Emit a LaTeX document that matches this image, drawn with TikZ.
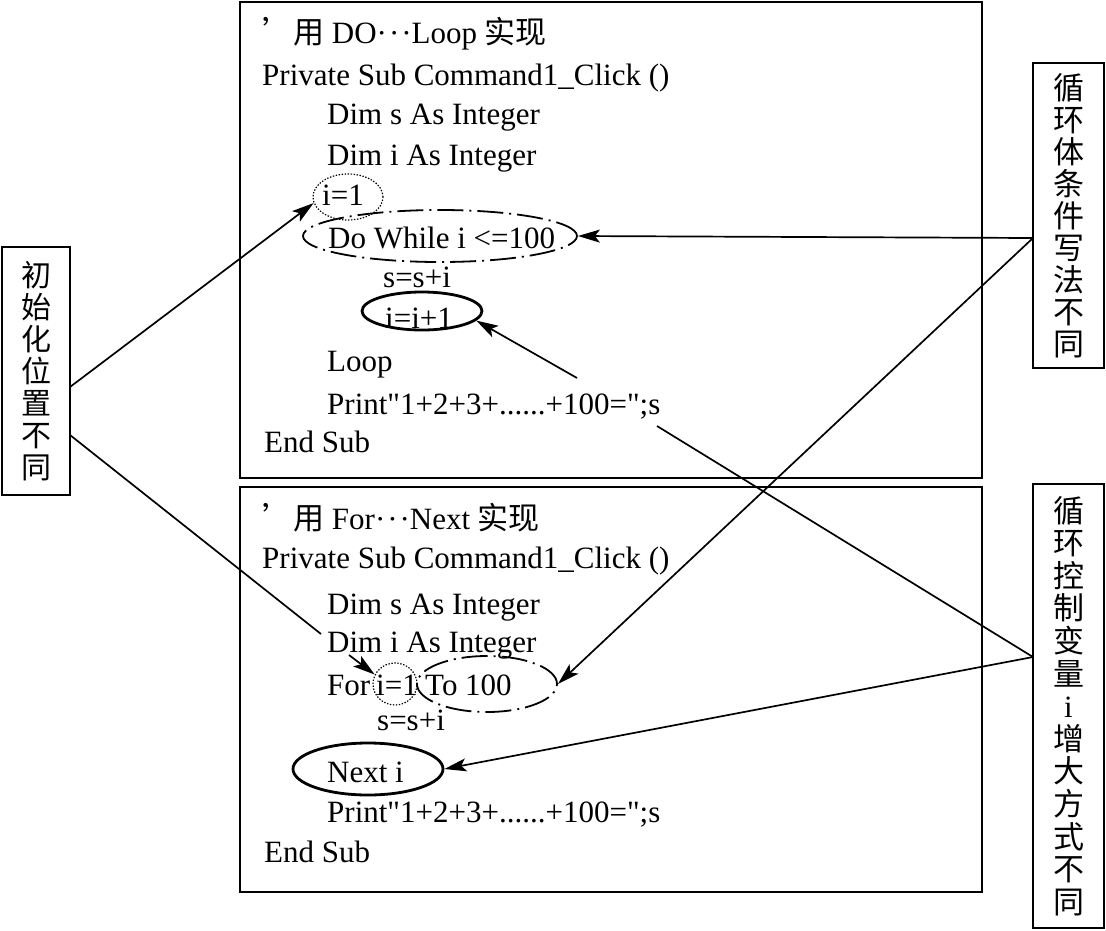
\documentclass[tikz,border=0pt]{standalone}
\usepackage{fontspec}
\setmainfont{Liberation Serif}[Ligatures=TeXOff]
\newfontfamily\cjk{Noto Sans CJK SC}
\usetikzlibrary{arrows.meta,shapes.geometric}
\newcommand{\mdots}{·\kern2pt·\kern2pt·}
\begin{document}
\begin{tikzpicture}[x=1pt,y=-1pt,
  code/.style={anchor=base west, inner sep=0pt, font=\fontsize{31}{36}\selectfont},
  frame/.style={draw, line width=2.6pt, inner sep=0pt},
  side/.style={draw, line width=2.4pt, inner sep=0pt, align=center},
  dotell/.style={draw, ellipse, line width=1.2pt, dash pattern=on 1.4pt off 1.6pt, inner sep=0pt},
  dashdot/.style={draw, ellipse, line width=1.8pt, dash pattern=on 26pt off 6pt on 2pt off 6pt, inner sep=0pt},
  thickell/.style={draw, ellipse, line width=2.8pt, inner sep=0pt},
  arr/.style={line width=1.7pt, -{Stealth[length=22pt,width=13pt,inset=5pt]}},
  conn/.style={line width=1.7pt}]
\fill[white] (0,0) rectangle (1106,930);
\useasboundingbox (0,0) rectangle (1106,930);

% main frames
\node[frame, minimum width=742pt, minimum height=476pt] (T) at (611,240) {};
\node[frame, minimum width=742pt, minimum height=405pt] (B) at (611,689.5) {};

% side boxes
\node[side, minimum width=68pt, minimum height=248pt, font=\cjk\fontsize{30}{32}\selectfont] (L) at (36,371)
  {初\\始\\化\\位\\置\\不\\同};
\node[side, minimum width=71pt, minimum height=305pt, font=\cjk\fontsize{31}{32}\selectfont] (RT) at (1068.5,215.5)
  {循\\环\\体\\条\\件\\写\\法\\不\\同};
\node[side, minimum width=71pt, minimum height=444pt, font=\cjk\fontsize{31}{32.6}\selectfont] (RB) at (1068.5,706)
  {循\\环\\控\\制\\变\\量\\{\rmfamily i}\\增\\大\\方\\式\\不\\同};

% top program
\node[code] (t1) at (262,43) {{\cjk ’用} DO\mdots Loop {\cjk 实现}};
\node[code] (t2) at (262,85) {Private Sub Command1\_Click ()};
\node[code] (t3) at (327,124) {Dim s As Integer};
\node[code] (t4) at (327,165) {Dim i As Integer};
\node[code] (t5) at (322,205) {i=1};
\node[code] (t6) at (328,248) {Do While i <=100};
\node[code] (t7) at (383,287) {s=s+i};
\node[code] (t8) at (385,328) {i=i+1};
\node[code] (t9) at (327,371) {Loop};
\node[code] (t10) at (327,414) {Print"1+2+3+......+100=";s};
\node[code] (t11) at (264,452) {End Sub};

% bottom program
\node[code] (b1) at (262,529) {{\cjk ’用} For\mdots Next {\cjk 实现}};
\node[code] (b2) at (262,568) {Private Sub Command1\_Click ()};
\node[code] (b3) at (327,614) {Dim s As Integer};
\node[code] (b4) at (327,652) {Dim i As Integer};
\node[code] (b5) at (327,695) {For};
\node[code] (b6) at (376,695) {i=1};
\node[code] (b7) at (425,695) {To 100};
\node[code] (b8) at (377,730) {s=s+i};
\node[code] (b9) at (327,782) {Next i};
\node[code] (b10) at (327,822) {Print"1+2+3+......+100=";s};
\node[code] (b11) at (264,862) {End Sub};

% ellipses
\node[dotell, minimum width=70pt, minimum height=46pt] (e1) at (348,197) {};
\node[dashdot, minimum width=274pt, minimum height=52pt] (e2) at (440,236) {};
\node[thickell, minimum width=120pt, minimum height=38pt] (e3) at (422,311) {};
\node[dotell, minimum width=44pt, minimum height=42pt] (e4) at (395,684) {};
\node[dashdot, minimum width=140pt, minimum height=56pt] (e5) at (487,684) {};
\node[thickell, minimum width=150pt, minimum height=52pt] (e6) at (368,769) {};

% connector end points
\coordinate (L1) at (70,387);
\coordinate (L2) at (70,435);
\coordinate (G1) at (321,634);
\coordinate (G2) at (349,655);
\coordinate (R1) at (1033,238);
\coordinate (R2) at (1033,657);
\coordinate (G3) at (657,426);
\coordinate (G4) at (577,378);

% connectors
\draw[arr] (L1) -- (e1.190);
\draw[conn] (L2) -- (G1);
\draw[arr] (G2) -- (e4.155);
\draw[arr] (R1) -- (e2.east);
\draw[arr] (R1) -- (e5.east);
\draw[conn] (R2) -- (G3);
\draw[arr] (G4) -- (e3.350);
\draw[arr] (R2) -- (e6.east);
\end{tikzpicture}
\end{document}
